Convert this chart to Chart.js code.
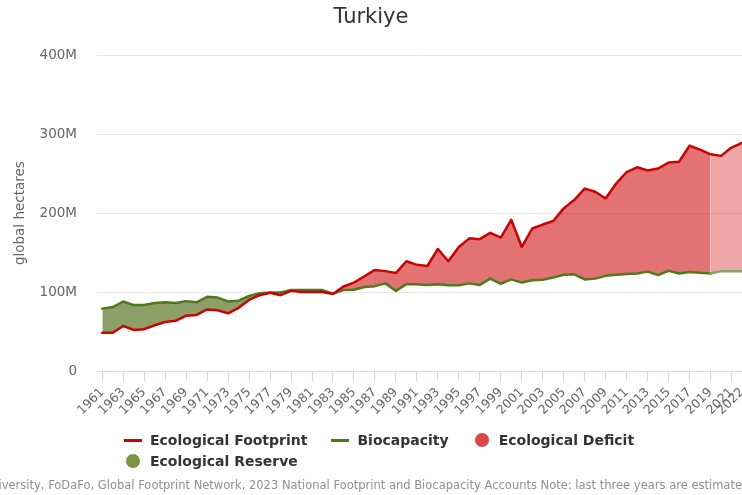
<!DOCTYPE html>
<html>
<head>
<meta charset="utf-8">
<title>Turkiye</title>
<script src="https://cdn.jsdelivr.net/npm/chart.js@4/dist/chart.umd.min.js"></script>
<style>
  html, body { margin: 0; padding: 0; background: #fff; }
  #wrap { position: relative; width: 742px; height: 495px; overflow: hidden; background: #fff; }
  #chart { position: absolute; left: 0; top: 0; }
  #legend {
    position: absolute; left: 123px; top: 430px; width: 560px;
    display: flex; flex-wrap: wrap;
    font: bold 14px 'DejaVu Sans', sans-serif; color: #333; line-height: 21px;
  }
  .item { display: inline-flex; align-items: center; margin-right: 23px; white-space: nowrap; }
  .sym { width: 20px; height: 21px; margin-right: 7px; position: relative; }
  .sym.line::after { content: ''; position: absolute; left: 1px; right: 1px; top: 9px; height: 3px; background: var(--c); }
  .sym.dot::after { content: ''; position: absolute; left: 3px; top: 3px; width: 14px; height: 14px; border-radius: 50%; background: var(--c); }
  #credits {
    position: absolute; right: -6px; top: 478px; white-space: nowrap;
    font: 11.5px 'DejaVu Sans', sans-serif; color: #909090;
  }
</style>
</head>
<body>
<div id="wrap">
  <canvas id="chart" width="742" height="495"></canvas>
  <div id="legend"></div>
  <div id="credits">York University, FoDaFo, Global Footprint Network, 2023 National Footprint and Biocapacity Accounts Note: last three years are estimates</div>
</div>
<script>
/* ---------------- data (million global hectares) ---------------- */
const years = [
  1961, 1962, 1963, 1964, 1965, 1966, 1967, 1968, 1969, 1970,
  1971, 1972, 1973, 1974, 1975, 1976, 1977, 1978, 1979, 1980,
  1981, 1982, 1983, 1984, 1985, 1986, 1987, 1988, 1989, 1990,
  1991, 1992, 1993, 1994, 1995, 1996, 1997, 1998, 1999, 2000,
  2001, 2002, 2003, 2004, 2005, 2006, 2007, 2008, 2009, 2010,
  2011, 2012, 2013, 2014, 2015, 2016, 2017, 2018, 2019, 2020,
  2021, 2022
];

const footprint = [
  48.5, 48.5, 57, 52, 53, 58, 62, 63.5, 70, 71,
  78, 77, 73, 80, 90, 96, 99, 96, 101.5, 100,
  100, 100, 97.5, 107, 112, 120, 128, 126.5, 124, 139,
  134.5, 133, 154.5, 139, 157, 168, 167, 175, 169, 191.5,
  157, 180.5, 185.5, 190, 206, 216.5, 231, 227, 218.5, 237.5,
  252, 258, 254, 256.5, 264, 265, 285.5, 280.5, 274.5, 272.5,
  283, 289
];

const biocapacity = [
  79, 81, 88, 83.5, 83.5, 86, 87, 86, 88.5, 87,
  94, 93, 88, 89, 95, 98.5, 99.5, 99.5, 102.5, 102.5,
  102.5, 102.5, 98, 102.5, 103, 106.5, 107.5, 111, 101.5, 110,
  110, 109, 110, 108.5, 108.5, 111, 109, 117, 110.5, 116,
  112, 115, 115.5, 118.5, 122, 122.5, 116, 117, 120.5, 122,
  123, 123.5, 126, 121.5, 127, 123.5, 125.5, 124.5, 123.5, 126.5,
  126.5, 126.5
];

const tickYears = [
  1961, 1963, 1965, 1967, 1969, 1971, 1973, 1975, 1977, 1979,
  1981, 1983, 1985, 1987, 1989, 1991, 1993, 1995, 1997, 1999,
  2001, 2003, 2005, 2007, 2009, 2011, 2013, 2015, 2017, 2019,
  2021, 2022
];

const yTicks = [0, 100, 200, 300, 400];
const firstEstimateYear = 2019;   // shading turns lighter from here

/* ---------------- colours ---------------- */
const RED = '#cc0000';
const GREEN = '#4e7a1d';
const GREEN_EST = '#86a35c';
const DEFICIT = 'rgba(204, 0, 0, 0.55)';
const DEFICIT_EST = 'rgba(204, 0, 0, 0.35)';
const RESERVE = 'rgba(70, 100, 10, 0.62)';
const RESERVE_EST = 'rgba(70, 100, 10, 0.4)';
const AXIS = '#ccd6eb';
const FONT = "'DejaVu Sans', sans-serif";

/* ---------------- build points ---------------- */
function toPoints(values, fromYear, toYear) {
  const pts = [];
  years.forEach((yr, i) => {
    if (yr >= fromYear && yr <= toYear) pts.push({ x: yr, y: values[i] });
  });
  return pts;
}

const lastYear = years[years.length - 1];
const estIndex = years.indexOf(firstEstimateYear);

new Chart(document.getElementById('chart'), {
  type: 'line',
  data: {
    datasets: [
      {
        label: 'Ecological Footprint',
        data: toPoints(footprint, years[0], lastYear),
        borderColor: RED,
        borderWidth: 2.5,
        fill: false
      },
      {
        label: 'Biocapacity',
        data: toPoints(biocapacity, years[0], lastYear),
        borderColor: GREEN,
        borderWidth: 2.5,
        fill: false,
        segment: { borderColor: ctx => ctx.p0DataIndex >= estIndex ? GREEN_EST : undefined }
      },
      {
        label: 'Ecological Deficit / Reserve',
        data: toPoints(footprint, years[0], firstEstimateYear),
        borderWidth: 0,
        borderColor: 'transparent',
        fill: { target: 1, above: DEFICIT, below: RESERVE }
      },
      {
        label: 'Estimates',
        data: toPoints(footprint, firstEstimateYear, lastYear),
        borderWidth: 0,
        borderColor: 'transparent',
        fill: { target: 1, above: DEFICIT_EST, below: RESERVE_EST }
      }
    ]
  },
  options: {
    responsive: false,
    devicePixelRatio: 1,
    animation: false,
    layout: { padding: 0 },
    elements: {
      point: { radius: 0, hoverRadius: 0 },
      line: { tension: 0, borderJoinStyle: 'round', borderCapStyle: 'round' }
    },
    plugins: {
      legend: { display: false },
      tooltip: { enabled: false },
      title: {
        display: true,
        text: 'Turkiye',
        color: '#333',
        font: { family: FONT, size: 21, weight: 'normal' },
        padding: { top: 5, bottom: 25 }
      }
    },
    scales: {
      x: {
        type: 'linear',
        min: years[0] - 0.5,
        max: lastYear,
        afterBuildTicks: s => { s.ticks = tickYears.map(v => ({ value: v })); },
        afterFit: s => { s.height = 124; s.paddingLeft = 0; s.paddingRight = 0; },
        ticks: {
          autoSkip: false,
          minRotation: 45,
          maxRotation: 45,
          padding: 4,
          color: '#666',
          font: { family: FONT, size: 12.5 },
          callback: v => String(v)
        },
        grid: { drawOnChartArea: false, drawTicks: true, tickLength: 10, color: AXIS },
        border: { display: true, color: AXIS, width: 1 }
      },
      y: {
        min: yTicks[0],
        max: yTicks[yTicks.length - 1],
        afterBuildTicks: s => { s.ticks = yTicks.map(v => ({ value: v })); },
        afterFit: s => { s.width = 97; },
        ticks: {
          padding: 20,
          color: '#666',
          font: { family: FONT, size: 13.5 },
          callback: v => v === 0 ? '0' : v + 'M'
        },
        grid: { color: '#e6e6e6', drawTicks: false },
        border: { display: false },
        title: {
          display: true,
          text: 'global hectares',
          color: '#666',
          font: { family: FONT, size: 13.5 },
          padding: { top: 12.6, bottom: 0 }
        }
      }
    }
  }
});

/* ---------------- legend (Highcharts-like, left aligned rows) ---------------- */
const legendItems = [
  { text: 'Ecological Footprint', color: RED, kind: 'line' },
  { text: 'Biocapacity', color: GREEN, kind: 'line' },
  { text: 'Ecological Deficit', color: '#df4545', kind: 'dot' },
  { text: 'Ecological Reserve', color: '#7a9444', kind: 'dot' }
];
document.getElementById('legend').innerHTML = legendItems.map(it =>
  `<span class="item"><span class="sym ${it.kind}" style="--c:${it.color}"></span>${it.text}</span>`
).join('');
</script>
</body>
</html>
